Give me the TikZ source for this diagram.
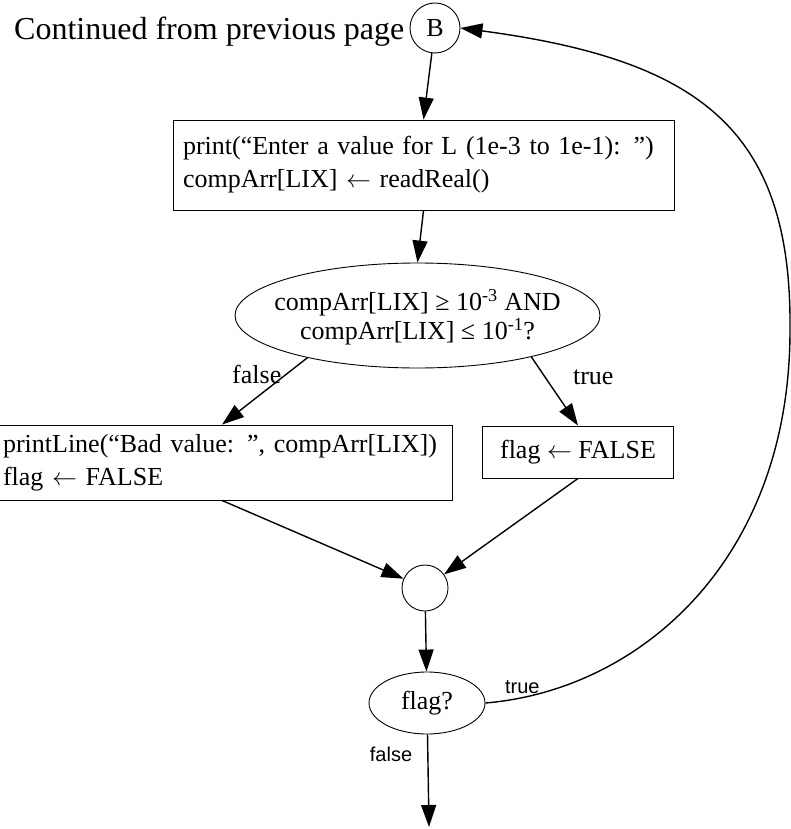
\documentclass[tikz,border=0pt]{standalone}
\usepackage{fontspec}
\setmainfont{Liberation Serif}
\setsansfont{Liberation Sans}
\usetikzlibrary{arrows.meta,positioning,shapes.geometric}

\tikzset{
  flowbox/.style={draw,rectangle,line width=0.9pt,align=left,inner xsep=10pt,inner ysep=0pt,
    font=\fontsize{26}{33}\selectfont},
  decision/.style={draw,ellipse,line width=0.9pt,inner sep=0pt,align=center,
    font=\fontsize{26}{33}\selectfont},
  joint/.style={draw,circle,line width=0.9pt,inner sep=0pt},
  flow/.style={line width=1.4pt,-{Triangle[length=22pt,width=15pt]}},
  lbl/.style={font=\fontsize{26}{30}\selectfont,inner sep=1pt},
  slbl/.style={font=\sffamily\fontsize{20}{24}\selectfont,inner sep=1pt}
}
\newcommand{\getsval}{\ensuremath{\leftarrow}}

\begin{document}
\begin{tikzpicture}[x=1pt,y=-1pt]
  \useasboundingbox (0,0) rectangle (791,829);
  % off-page connector
  \node[joint,minimum size=50pt,font=\fontsize{26}{30}\selectfont] (B) at (435,28) {B};
  \node[left=5pt of B,yshift=-4pt,inner sep=0pt,font=\fontsize{32}{38}\selectfont] (cont) {Continued from previous page};
  % read L
  \node[flowbox,text width=481pt,minimum height=90pt] (readL) at (423.5,165)
    {print(“Enter a value for L (1e-3 to 1e-1): ”)\\compArr[LIX] \getsval{} readReal()};
  % range test
  \node[decision,minimum width=365pt,minimum height=105pt,
    label={[align=center,font=\fontsize{26}{29}\selectfont,yshift=-2pt]center:{compArr[LIX] ≥ 10\textsuperscript{-3} AND\\compArr[LIX] ≤ 10\textsuperscript{-1}?}}]
    (range) at (417.5,315.5) {};
  % branches
  \node[flowbox,text width=438pt,inner xsep=11pt,minimum height=75pt] (badL) at (222,462.5)
    {printLine(“Bad value: ”, compArr[LIX])\\flag \getsval{} FALSE};
  \node[flowbox,minimum width=191pt,minimum height=52pt] (okL) at (578,452) {flag \getsval{} FALSE};
  % merge and loop test
  \node[joint,minimum size=46pt] (merge) at (425,588) {};
  \node[decision,minimum width=116pt,minimum height=62pt] (flagQ) at (427,703) {flag?};
  \coordinate (exit) at (429,827);
  \coordinate (bend) at (790,330);

  \draw[flow] (B) -- (readL.north);
  \draw[flow] (readL.south) -- (range.north);
  \draw[flow] (range.201) -- (badL.north) node[lbl,pos=0.25,left=3pt]{false};
  \draw[flow] (range.-20) -- (okL.north) node[lbl,pos=0.3,right=26pt]{true};
  \draw[flow] (badL.south) -- (merge);
  \draw[flow] (okL.south) -- (merge);
  \draw[flow] (merge) -- (flagQ);
  \draw[flow] (flagQ) -- (exit) node[slbl,pos=0.22,left=14pt]{false};
  \draw[flow] (flagQ.east) .. controls (640,690) and (790,560) .. (bend)
    node[slbl,pos=0.08,above=2pt]{true}
    .. controls (792,130) and (700,60) .. (B.east);
\end{tikzpicture}
\end{document}
